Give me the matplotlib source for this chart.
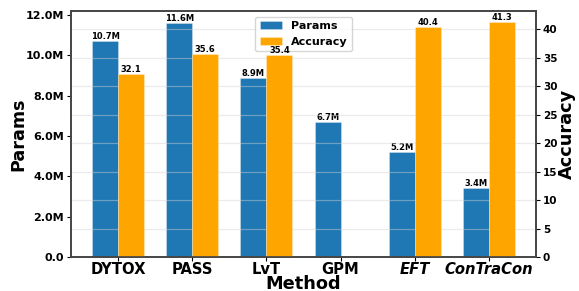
import matplotlib
matplotlib.use("Agg")
import matplotlib.pyplot as plt
import numpy as np
from matplotlib.ticker import FuncFormatter

methods = ["DYTOX", "PASS", "LvT", "GPM", "EFT", "ConTraCon"]
params_m = [10.7, 11.6, 8.9, 6.7, 5.2, 3.4]
accuracy = [32.1, 35.6, 35.4, np.nan, 40.4, 41.3]
italic_methods = ["EFT", "ConTraCon"]

blue = "#1f77b4"
orange = "#FFA500"

fig = plt.figure(figsize=(5.79, 2.91), dpi=100)
ax1 = fig.add_axes([0.1226, 0.1168, 0.8031, 0.8452])
ax2 = ax1.twinx()

x = np.arange(len(methods))
w = 0.35
b1 = ax1.bar(x - w/2, params_m, w, color=blue, label="Params",
             edgecolor=(1, 1, 1, 0.35), linewidth=0.6)
acc_plot = [a if not np.isnan(a) else 0 for a in accuracy]
b2 = ax2.bar(x + w/2, acc_plot, w, color=orange, label="Accuracy",
             edgecolor=(1, 1, 1, 0.35), linewidth=0.6)
for rect, a in zip(b2, accuracy):
    if np.isnan(a):
        rect.set_visible(False)

for rect, v in zip(b1, params_m):
    ax1.text(rect.get_x() + rect.get_width()/2, rect.get_height(), f"{v:.1f}M",
             ha="center", va="bottom", fontsize=6, fontweight="bold")
for rect, v in zip(b2, accuracy):
    if np.isnan(v):
        continue
    ax2.text(rect.get_x() + rect.get_width()/2, rect.get_height(), f"{v:.1f}",
             ha="center", va="bottom", fontsize=6, fontweight="bold", zorder=6)

ax1.set_ylim(0, 12.2)
ax1.set_yticks(np.arange(0, 12.1, 2))
ax1.yaxis.set_major_formatter(FuncFormatter(lambda v, p: "0.0" if v == 0 else f"{v:.1f}M"))
ax2.set_ylim(0, 43.2)
ax2.set_yticks(np.arange(0, 41, 5))
ax1.set_xlim(-0.635, 5.635)

ax2.grid(axis="y", color="lightgrey", linewidth=0.9, alpha=0.45)
ax2.set_axisbelow(True)
ax1.set_zorder(0)
ax2.set_zorder(1)
ax2.patch.set_visible(False)

ax1.set_xticks(x)
ax1.set_xticklabels(methods, fontsize=10.6, fontweight="bold")
for lbl in ax1.get_xticklabels():
    if lbl.get_text() in italic_methods:
        lbl.set_fontstyle("italic")
for lbl in ax1.get_yticklabels():
    lbl.set_fontsize(8)
    lbl.set_fontweight("bold")
for lbl in ax2.get_yticklabels():
    lbl.set_fontsize(7.5)
    lbl.set_fontweight("bold")

ax1.tick_params(axis="x", length=3, pad=0.5)
ax1.tick_params(axis="y", length=3, pad=2)
ax2.tick_params(axis="y", length=3, pad=2)

ax1.set_xlabel("Method", fontsize=12.8, fontweight="bold", labelpad=-1.2)
ax1.set_ylabel("Params", fontsize=12.6, fontweight="bold", labelpad=-1)
ax2.set_ylabel("Accuracy", fontsize=12.8, fontweight="bold", labelpad=0)

for ax in (ax1, ax2):
    for s in ax.spines.values():
        s.set_color("#444444")
        s.set_linewidth(1.2)

h1, l1 = ax1.get_legend_handles_labels()
h2, l2 = ax2.get_legend_handles_labels()
leg = ax2.legend(h1 + h2, l1 + l2, loc="upper center", prop={"size": 8, "weight": "bold"},
                 framealpha=0.8, borderpad=0.4, handlelength=2.0)
leg.set_zorder(5)

fig.savefig("out.png", dpi=100)
